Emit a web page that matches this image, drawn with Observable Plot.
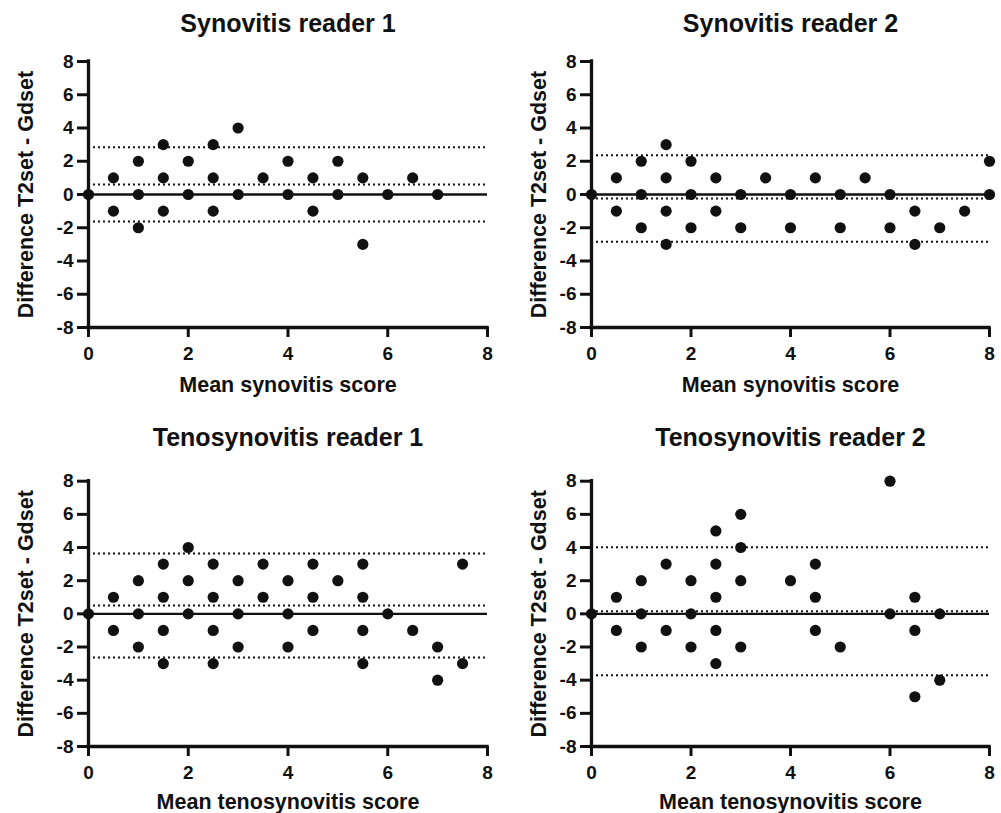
<!DOCTYPE html>
<html>
<head>
<meta charset="utf-8">
<script src="https://cdn.jsdelivr.net/npm/d3@7"></script>
<script src="https://cdn.jsdelivr.net/npm/@observablehq/plot@0.6"></script>
<style>
  html, body { margin: 0; padding: 0; background: #fff; }
  #wrap { position: relative; width: 1001px; height: 813px; background: #fff; }
  .panel { position: absolute; }
</style>
</head>
<body>
<div id="wrap"></div>
<script>
// ---- Data ----
const xTicks = [0, 2, 4, 6, 8];
const yTicks = [-8, -6, -4, -2, 0, 2, 4, 6, 8];
const yLabel = "Difference T2set - Gdset";

const titles = ["Synovitis reader 1", "Synovitis reader 2", "Tenosynovitis reader 1", "Tenosynovitis reader 2"];
const xLabels = ["Mean synovitis score", "Mean synovitis score", "Mean tenosynovitis score", "Mean tenosynovitis score"];

const synR1Mean = [0, 0.5, 0.5, 1, 1, 1, 1.5, 1.5, 1.5, 2, 2, 2.5, 2.5, 2.5, 3, 3, 3.5, 4, 4, 4.5, 4.5, 5, 5, 5.5, 5.5, 6, 6.5, 7];
const synR1Diff = [0, 1, -1, 2, 0, -2, 3, 1, -1, 2, 0, 3, 1, -1, 4, 0, 1, 2, 0, 1, -1, 2, 0, 1, -3, 0, 1, 0];
const synR1Limits = [2.84, 0.6, -1.62];

const synR2Mean = [0, 0.5, 0.5, 1, 1, 1, 1.5, 1.5, 1.5, 1.5, 2, 2, 2, 2.5, 2.5, 3, 3, 3.5, 4, 4, 4.5, 5, 5, 5.5, 6, 6, 6.5, 6.5, 7, 7.5, 8, 8];
const synR2Diff = [0, 1, -1, 2, 0, -2, 3, 1, -1, -3, 2, 0, -2, 1, -1, 0, -2, 1, 0, -2, 1, 0, -2, 1, 0, -2, -1, -3, -2, -1, 2, 0];
const synR2Limits = [2.36, -0.24, -2.84];

const tenR1Mean = [0, 0.5, 0.5, 1, 1, 1, 1.5, 1.5, 1.5, 1.5, 2, 2, 2, 2.5, 2.5, 2.5, 2.5, 3, 3, 3, 3.5, 3.5, 4, 4, 4, 4.5, 4.5, 4.5, 5, 5.5, 5.5, 5.5, 5.5, 6, 6.5, 7, 7, 7.5, 7.5];
const tenR1Diff = [0, 1, -1, 2, 0, -2, 3, 1, -1, -3, 4, 2, 0, 3, 1, -1, -3, 2, 0, -2, 3, 1, 2, 0, -2, 3, 1, -1, 2, 3, 1, -1, -3, 0, -1, -2, -4, 3, -3];
const tenR1Limits = [3.64, 0.5, -2.64];

const tenR2Mean = [0, 0.5, 0.5, 1, 1, 1, 1.5, 1.5, 2, 2, 2, 2.5, 2.5, 2.5, 2.5, 2.5, 3, 3, 3, 3, 4, 4.5, 4.5, 4.5, 5, 6, 6, 6.5, 6.5, 6.5, 7, 7];
const tenR2Diff = [0, 1, -1, 2, 0, -2, 3, -1, 2, 0, -2, 5, 3, 1, -1, -3, 6, 4, 2, -2, 2, 3, 1, -1, -2, 8, 0, 1, -1, -5, 0, -4];
const tenR2Limits = [4.02, 0.16, -3.7];

// ---- Layout (pixel placement of each panel) ----
const panels = [
  {mean: synR1Mean, diff: synR1Diff, limits: synR1Limits, left: 0,   top: 0,   width: 500, height: 410, mt: 61,   mb: 83, ml: 88, mr: 13, titleDy: -38, xlabDy: 58,   ylabDx: -62.5},
  {mean: synR2Mean, diff: synR2Diff, limits: synR2Limits, left: 500, top: 0,   width: 501, height: 410, mt: 61,   mb: 83, ml: 91, mr: 12, titleDy: -38, xlabDy: 58,   ylabDx: -52.5},
  {mean: tenR1Mean, diff: tenR1Diff, limits: tenR1Limits, left: 0,   top: 410, width: 500, height: 403, mt: 70.7, mb: 67, ml: 88, mr: 13, titleDy: -43, xlabDy: 55.6, ylabDx: -62.5},
  {mean: tenR2Mean, diff: tenR2Diff, limits: tenR2Limits, left: 500, top: 410, width: 501, height: 403, mt: 70.7, mb: 67, ml: 91, mr: 12, titleDy: -43, xlabDy: 55.6, ylabDx: -52.5}
];

const ink = "#111";
const font = "'Liberation Sans', Arial, Helvetica, sans-serif";
const wrap = document.getElementById("wrap");

panels.forEach((p, i) => {
  const data = p.mean.map((m, j) => ({mean: m, diff: p.diff[j]}));
  const chart = Plot.plot({
    width: p.width,
    height: p.height,
    marginTop: p.mt,
    marginBottom: p.mb,
    marginLeft: p.ml,
    marginRight: p.mr,
    style: {fontFamily: font, fontWeight: "bold", color: ink, background: "#fff"},
    x: {domain: [0, 8]},
    y: {domain: [-8, 8]},
    marks: [
      Plot.ruleY(p.limits, {stroke: ink, strokeWidth: 2, strokeDasharray: "2,3"}),
      Plot.ruleY([0], {stroke: ink, strokeWidth: 2.4}),
      Plot.axisX({ticks: xTicks, tickFormat: d => String(d), tickSize: 10, tickPadding: 9, strokeWidth: 3, label: null, fill: ink, fontSize: 19, fontWeight: "bold", fontFamily: font}),
      Plot.axisY({ticks: yTicks, tickFormat: d => String(d), tickSize: 11, tickPadding: 4, strokeWidth: 3, label: null, fill: ink, fontSize: 19, fontWeight: "bold", fontFamily: font}),
      Plot.ruleX([0], {stroke: ink, strokeWidth: 3.3, strokeLinecap: "square"}),
      Plot.ruleY([-8], {stroke: ink, strokeWidth: 3.3, strokeLinecap: "square"}),
      Plot.dot(data, {x: "mean", y: "diff", r: 5.6, fill: ink, stroke: "none"}),
      Plot.text([titles[i]], {frameAnchor: "top", lineAnchor: "middle", dy: p.titleDy, fontSize: 25, fontWeight: "bold", fill: ink}),
      Plot.text([xLabels[i]], {frameAnchor: "bottom", lineAnchor: "middle", dy: p.xlabDy, fontSize: 21.5, fontWeight: "bold", fill: ink}),
      Plot.text([yLabel], {frameAnchor: "left", lineAnchor: "middle", textAnchor: "middle", dx: p.ylabDx, rotate: -90, fontSize: 21.5, fontWeight: "bold", fill: ink})
    ]
  });
  const div = document.createElement("div");
  div.className = "panel";
  div.style.left = p.left + "px";
  div.style.top = p.top + "px";
  div.appendChild(chart);
  wrap.appendChild(div);
});
</script>
</body>
</html>
